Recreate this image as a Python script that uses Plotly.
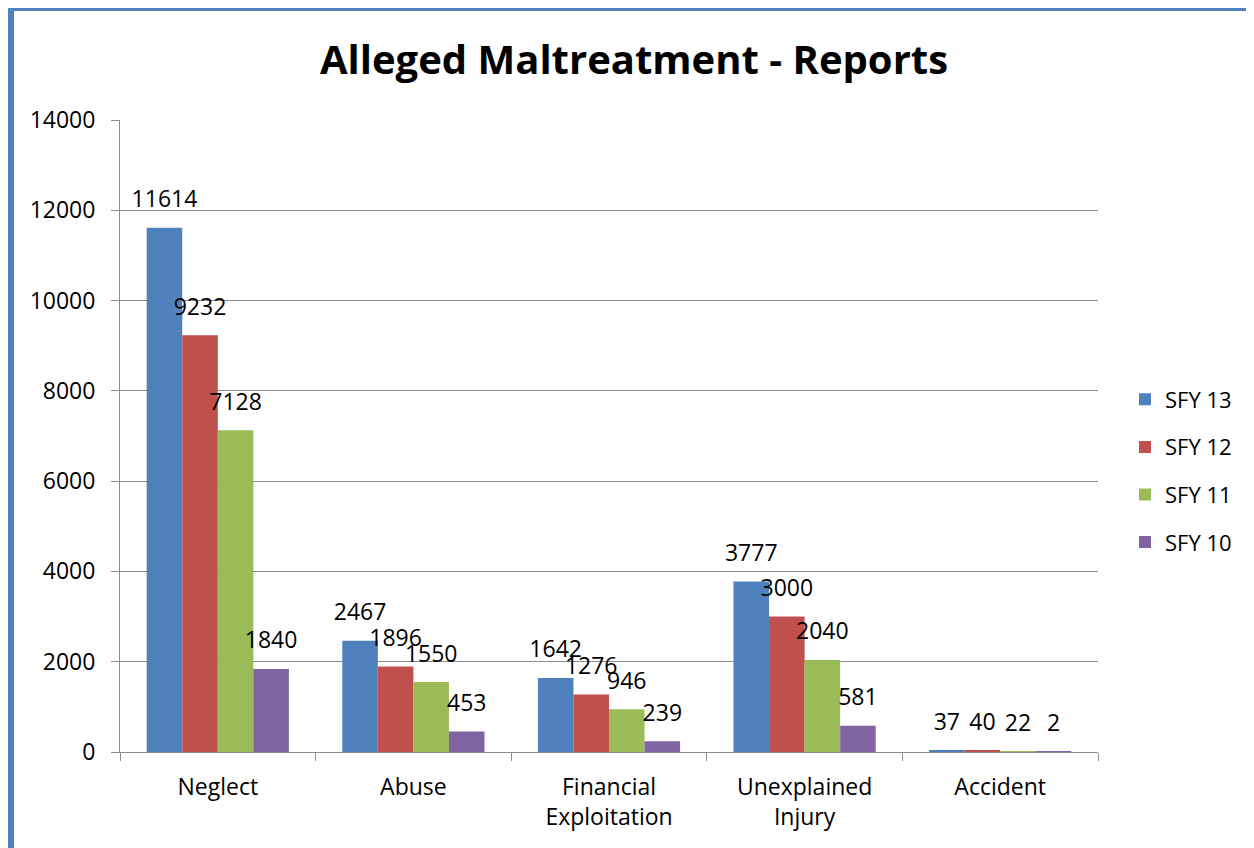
import plotly.graph_objects as go

# Categories and values per state fiscal year
categories = ['Neglect', 'Abuse', 'Financial<br>Exploitation', 'Unexplained<br>Injury', 'Accident']
series_names = ['SFY 13', 'SFY 12', 'SFY 11', 'SFY 10']
sfy13 = [11614, 2467, 1642, 3777, 37]
sfy12 = [9232, 1896, 1276, 3000, 40]
sfy11 = [7128, 1550, 946, 2040, 22]
sfy10 = [1840, 453, 239, 581, 2]

colors = ['#4F81BD', '#C0504D', '#9BBB59', '#8064A2']
font_family = 'Open Sans, Noto Sans, sans-serif'

fig = go.Figure()
for name, vals, col in zip(series_names, [sfy13, sfy12, sfy11, sfy10], colors):
    fig.add_trace(go.Bar(
        name=name, x=categories, y=vals,
        marker=dict(color=col, line=dict(width=0)),
        offsetgroup=name, legendgroup=name,
    ))
    # data labels sit a little above the bars, like the Excel original
    fig.add_trace(go.Scatter(
        x=categories, y=vals, mode='markers+text',
        text=[str(v) for v in vals], textposition='top center',
        textfont=dict(size=23, color='black', family=font_family),
        marker=dict(size=22, color='rgba(0,0,0,0)'),
        offsetgroup=name, showlegend=False, hoverinfo='skip', cliponaxis=False,
    ))

# the browser adds an 8px page margin, so the figure is 8px smaller
W, H = 1246, 840
L, R, T, B = 112, 156, 112, 96
pw, ph = W - L - R, H - T - B
off = 8


def px_x(x):  # page pixel -> paper x
    return (x - off - L) / pw


def px_y(y):  # page pixel -> paper y
    return (H - B - (y - off)) / ph


fig.update_layout(
    width=W, height=H,
    margin=dict(l=L, r=R, t=T, b=B, autoexpand=False),
    paper_bgcolor='white', plot_bgcolor='white',
    barmode='group', bargap=0.273, bargroupgap=0,
    scattermode='group', scattergap=0.273,
    font=dict(family=font_family, color='black', size=23),
    title=dict(text='<b>Alleged Maltreatment - Reports</b>', x=(634 - off) / W, xanchor='center',
               y=1 - (60 - off) / H, yanchor='middle',
               font=dict(size=40, family=font_family, color='black')),
    legend=dict(xref='container', x=(1125 - off) / W, xanchor='left', y=px_y(471), yanchor='middle',
                font=dict(size=22), tracegroupgap=16, bgcolor='rgba(0,0,0,0)'),
    showlegend=True,
    shapes=[
        # blue chart frame, cut off at the right and bottom
        dict(type='line', xref='paper', yref='paper',
             x0=px_x(11), x1=px_x(11), y0=px_y(8), y1=px_y(900),
             line=dict(color='#4F81BD', width=6)),
        dict(type='line', xref='paper', yref='paper',
             x0=px_x(8), x1=px_x(1300), y0=px_y(9.5), y1=px_y(9.5),
             line=dict(color='#4F81BD', width=3)),
    ],
)

fig.update_yaxes(
    range=[0, 14000], dtick=2000, tickformat='d',
    showgrid=True, gridcolor='#8C8C8C', gridwidth=1,
    showline=True, linecolor='#8C8C8C', linewidth=1,
    ticks='outside', ticklen=8, tickcolor='#8C8C8C', zeroline=False,
    ticklabelstandoff=11,
    tickfont=dict(size=23, color='black'),
)
fig.update_xaxes(
    showline=True, linecolor='#8C8C8C', linewidth=1,
    ticks='outside', ticklen=8, tickcolor='#8C8C8C', tickson='boundaries',
    ticklabelstandoff=14,
    tickfont=dict(size=23, color='black'),
)

fig.write_html("out.html")
